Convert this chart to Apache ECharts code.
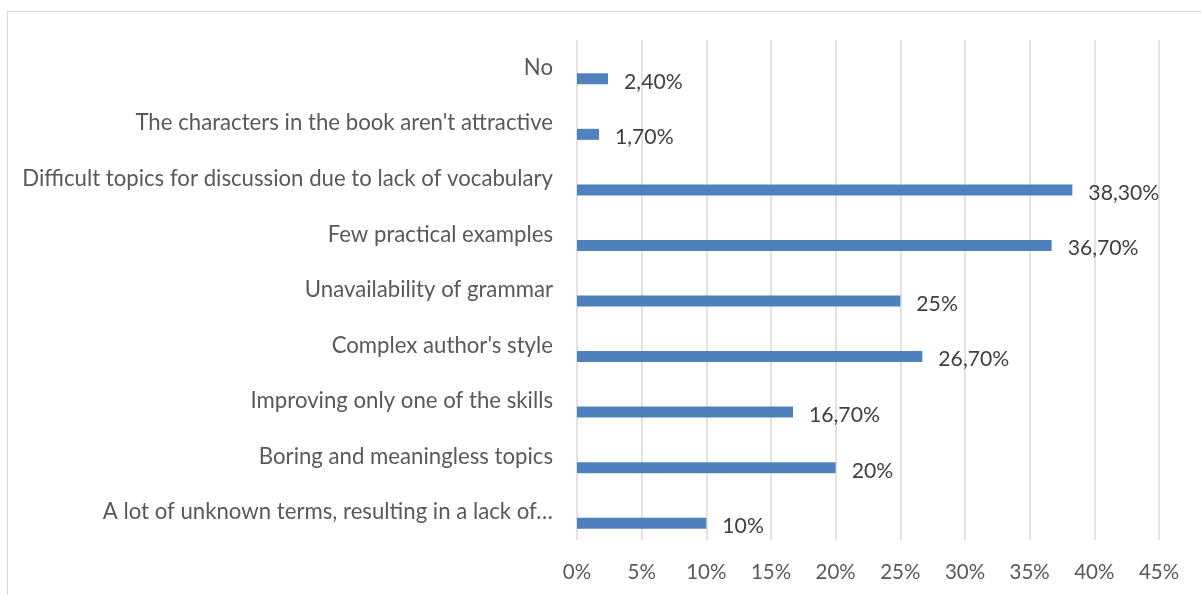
<!DOCTYPE html>
<html>
<head>
<meta charset="utf-8">
<script src="https://cdn.jsdelivr.net/npm/echarts@6/dist/echarts.min.js"></script>
<style>
  html, body { margin: 0; padding: 0; background: #fff; overflow: hidden; }
  #frame { position: absolute; left: 7px; top: 11px; width: 1300px; height: 700px; border: 1.5px solid #d9d9d9; box-sizing: border-box; }
  #chart { position: absolute; left: 0; top: 0; width: 1201px; height: 595px; }
</style>
</head>
<body>
<div id="frame"></div>
<div id="chart"></div>
<script>
// categories listed bottom to top (category axis order)
const categories = [
  "A lot of unknown terms, resulting in a lack of\u2026",
  "Boring and meaningless topics",
  "Improving only one of the skills",
  "Complex author's style",
  "Unavailability of grammar",
  "Few practical examples",
  "Difficult topics for discussion due to lack of vocabulary",
  "The characters in the book aren't attractive",
  "No"
];
const values = [10, 20, 16.7, 26.7, 25, 36.7, 38.3, 1.7, 2.4];
const xTicks = [0, 5, 10, 15, 20, 25, 30, 35, 40, 45];

const fmtValue = (v) => Number.isInteger(v) ? v + "%" : v.toFixed(2).replace(".", ",") + "%";

const chart = echarts.init(document.getElementById("chart"));

const option = {
  animation: false,
  textStyle: { fontFamily: "Lato" },
  grid: { left: 577, right: 42, top: 40, bottom: 55 },
  xAxis: {
    type: "value",
    min: xTicks[0],
    max: xTicks[xTicks.length - 1],
    interval: 5,
    axisLine: { show: false },
    axisTick: { show: false },
    axisLabel: { formatter: "{value}%", color: "#595959", fontSize: 20.5, margin: 22, fontFamily: "Lato" },
    splitLine: { show: true, lineStyle: { color: "#d9d9d9", width: 1.5 } }
  },
  yAxis: {
    type: "category",
    data: categories,
    axisLine: { show: false },
    axisTick: { show: false },
    axisLabel: { color: "#595959", fontSize: 22.2, margin: 24, fontFamily: "Lato" }
  },
  series: [
    {
      // empty placeholder series, shifts the real bars below the band centre
      type: "bar",
      data: categories.map(() => null),
      barWidth: 11,
      barGap: "100%",
      silent: true
    },
    {
      type: "bar",
      data: values,
      barWidth: 11,
      barGap: "100%",
      itemStyle: { color: "#4f81bd" },
      label: {
        show: true,
        position: "right",
        distance: 16,
        offset: [0, 3],
        color: "#404040",
        fontSize: 21.2,
        fontFamily: "Lato",
        formatter: (p) => fmtValue(p.value)
      }
    }
  ]
};

chart.setOption(option);
</script>
</body>
</html>
